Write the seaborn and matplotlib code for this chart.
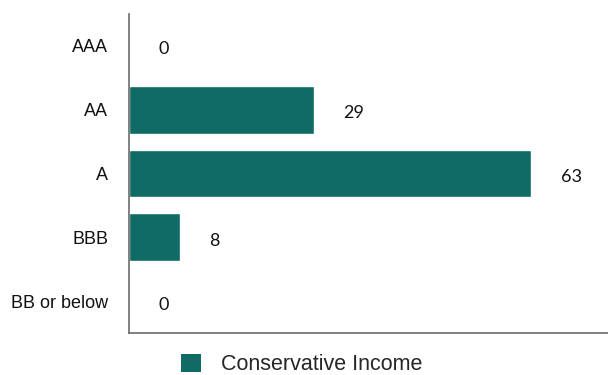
import matplotlib
matplotlib.use("Agg")
import matplotlib.pyplot as plt
import seaborn as sns
import pandas as pd
from matplotlib.patches import Patch

ratings = ["AAA", "AA", "A", "BBB", "BB or below"]
values = [0, 29, 63, 8, 0]
series_name = "Conservative Income"

BAR_COLOR = "#0f6b63"

sns.set_style("white")
plt.rcParams["font.family"] = ["Liberation Sans", "DejaVu Sans"]

df = pd.DataFrame({"Rating": ratings, "Value": values})

fig = plt.figure(figsize=(6.08, 3.75), dpi=100)
ax = fig.add_axes([129 / 608, 1 - 333 / 375, 1 - 129 / 608, 319 / 375])

sns.barplot(data=df, y="Rating", x="Value", orient="h", color=BAR_COLOR,
            width=0.75, saturation=1, ax=ax)

ax.set_xlim(0, 75)
ax.set_ylim(4.5, -0.5)
ax.set_xlabel("")
ax.set_ylabel("")
ax.set_xticks([])
ax.tick_params(axis="y", length=0, labelsize=13, pad=15, labelcolor="#111111")

for s in ["top", "right"]:
    ax.spines[s].set_visible(False)
for s in ["left", "bottom"]:
    ax.spines[s].set_color("#6b6b6b")
    ax.spines[s].set_linewidth(1.2)

# value labels sit a fixed gap to the right of each bar
for i, v in enumerate(values):
    ax.annotate(str(v), xy=(v, i), xytext=(21, -2.5), textcoords="offset points",
                ha="left", va="center", fontsize=13, color="#111111",
                family=["Lato", "DejaVu Sans"])

handle = Patch(facecolor=BAR_COLOR, edgecolor="none")
fig.legend([handle], [series_name], loc="center left",
           bbox_to_anchor=(181 / 608, 1 - 364.5 / 375), frameon=False,
           borderpad=0, borderaxespad=0,
           fontsize=15.5, handlelength=0.93, handleheight=0.93, handletextpad=0.93)

fig.savefig("out.png", dpi=100)
